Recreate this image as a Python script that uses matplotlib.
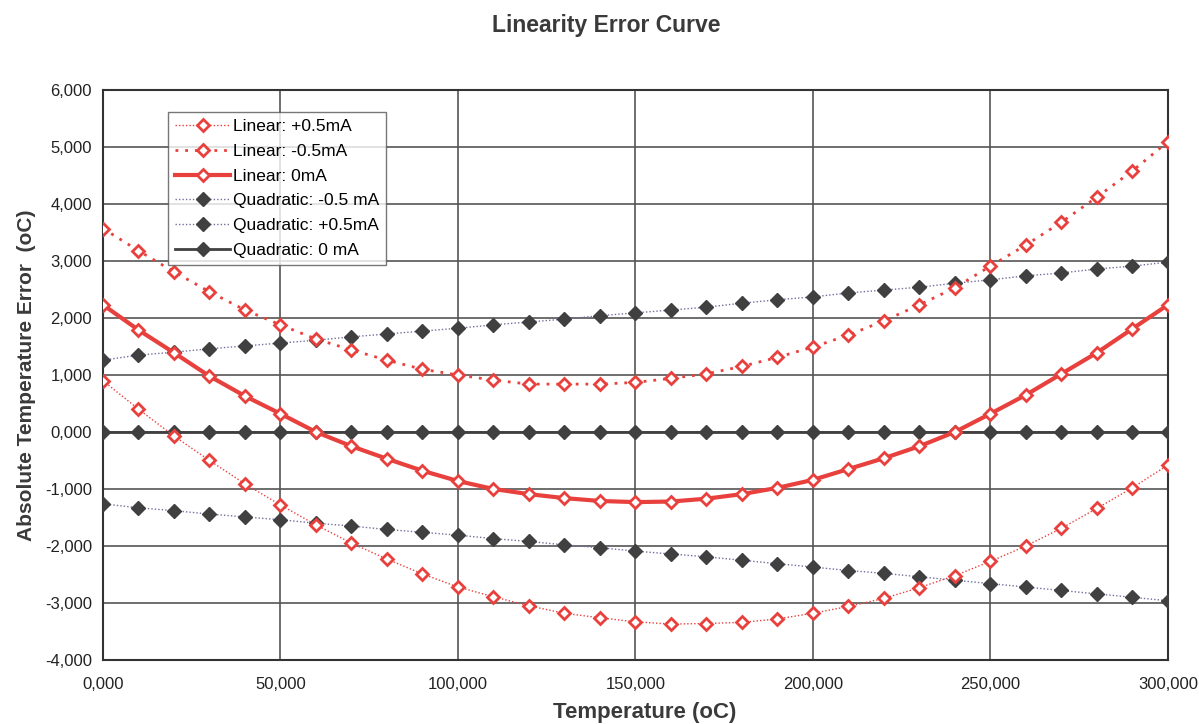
import matplotlib
matplotlib.use("Agg")
import matplotlib.pyplot as plt
from matplotlib.ticker import FuncFormatter
import numpy as np

plt.rcParams['font.family'] = ['Liberation Sans', 'DejaVu Sans']

temp = list(range(0, 301, 10))

lin_plus = [0.90, 0.40, -0.07, -0.50, -0.91, -1.28, -1.63, -1.95, -2.23, -2.49,
            -2.72, -2.89, -3.05, -3.18, -3.26, -3.33, -3.37, -3.36, -3.34, -3.28,
            -3.18, -3.06, -2.92, -2.73, -2.52, -2.27, -2.00, -1.69, -1.34, -0.98, -0.58]
lin_minus = [3.57, 3.18, 2.81, 2.46, 2.14, 1.88, 1.63, 1.44, 1.26, 1.10,
             1.00, 0.91, 0.84, 0.84, 0.84, 0.87, 0.94, 1.02, 1.15, 1.31,
             1.49, 1.70, 1.95, 2.23, 2.53, 2.91, 3.28, 3.68, 4.12, 4.58, 5.09]
lin_zero = [2.23, 1.79, 1.39, 0.98, 0.63, 0.32, 0.00, -0.25, -0.47, -0.68,
            -0.86, -1.00, -1.09, -1.16, -1.21, -1.23, -1.22, -1.17, -1.09, -0.98,
            -0.84, -0.65, -0.46, -0.25, 0.00, 0.32, 0.65, 1.02, 1.39, 1.81, 2.23]
quad_minus = [1.26, 1.35, 1.40, 1.46, 1.51, 1.56, 1.61, 1.67, 1.72, 1.77,
              1.82, 1.88, 1.93, 1.98, 2.04, 2.09, 2.14, 2.19, 2.26, 2.32,
              2.37, 2.44, 2.49, 2.54, 2.61, 2.67, 2.74, 2.79, 2.86, 2.91, 2.98]
quad_plus = [-1.26, -1.33, -1.38, -1.44, -1.49, -1.54, -1.60, -1.65, -1.71, -1.76,
             -1.81, -1.87, -1.92, -1.98, -2.03, -2.09, -2.14, -2.19, -2.25, -2.31,
             -2.37, -2.43, -2.48, -2.54, -2.60, -2.66, -2.72, -2.78, -2.84, -2.90, -2.96]
quad_zero = [0.0] * 31

red = '#e8403c'
dark = '#404040'
blue = '#7070a0'

fig = plt.figure(figsize=(11.99, 7.24), dpi=100)
ax = fig.add_axes([0.0859, 0.0884, 0.8881, 0.7873])

ax.plot(temp, lin_plus, color=red, lw=1.0, ls=(0, (1, 1.5)), marker='D', ms=6.5,
        mfc='white', mec=red, mew=2, label='Linear: +0.5mA', zorder=4)
ax.plot(temp, lin_minus, color=red, lw=2.0, ls=(0, (1, 2.5)), marker='D', ms=6.5,
        mfc='white', mec=red, mew=2, label='Linear: -0.5mA', zorder=4)
ax.plot(temp, lin_zero, color=red, lw=3.0, ls='-', marker='D', ms=6.5,
        mfc='white', mec=red, mew=2, label='Linear: 0mA', zorder=5)
ax.plot(temp, quad_minus, color=blue, lw=1.0, ls=(0, (1, 1.5)), marker='D', ms=7,
        mfc=dark, mec=dark, label='Quadratic: -0.5 mA', zorder=3)
ax.plot(temp, quad_plus, color=blue, lw=1.0, ls=(0, (1, 1.5)), marker='D', ms=7,
        mfc=dark, mec=dark, label='Quadratic: +0.5mA', zorder=3)
ax.plot(temp, quad_zero, color=dark, lw=2.0, ls='-', marker='D', ms=7,
        mfc=dark, mec=dark, label='Quadratic: 0 mA', zorder=3)

ax.set_xlim(0, 300)
ax.set_ylim(-4, 6)
ax.set_xticks(range(0, 301, 50))
ax.set_yticks(range(-4, 7, 1))
ax.xaxis.set_major_formatter(FuncFormatter(lambda v, p: f'{v:.3f}'.replace('.', ',')))
ax.yaxis.set_major_formatter(FuncFormatter(lambda v, p: f'{v:.3f}'.replace('.', ',')))
ax.grid(True, color='#555555', lw=1.2)
ax.set_axisbelow(True)
for s in ax.spines.values():
    s.set_color('#333333')
    s.set_linewidth(1.5)
ax.tick_params(labelsize=12, colors='#222222', length=0)
ax.tick_params(axis='x', pad=12)
ax.tick_params(axis='y', pad=8)

ax.set_xlabel('Temperature (oC)', fontsize=16, fontweight='bold', color='#3a3a3a')
ax.xaxis.set_label_coords(0.509, -0.073)
ax.set_ylabel('Absolute Temperature Error  (oC)', fontsize=15, fontweight='bold',
              color='#3a3a3a')
ax.yaxis.set_label_coords(-0.063, 0.5)
fig.text(0.506, 0.965, 'Linearity Error Curve', fontsize=16.5, fontweight='bold',
         color='#3a3a3a', ha='center', va='center')

leg = ax.legend(loc='upper left', bbox_to_anchor=(0.061, 0.961), fontsize=12.5,
                frameon=True, fancybox=False, edgecolor='#555555', borderpad=0.4,
                labelspacing=0.55, handlelength=3.2, handletextpad=0.15, borderaxespad=0)
leg.get_frame().set_linewidth(1.0)

fig.savefig('out.png', dpi=100, facecolor='white')
